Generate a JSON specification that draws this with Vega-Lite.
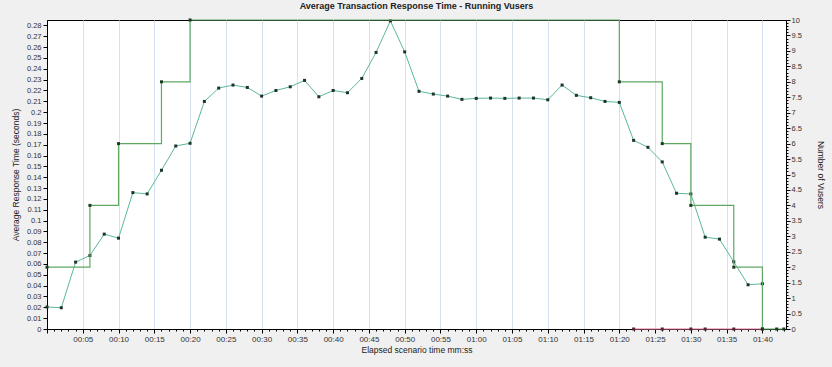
{
  "$schema": "https://vega.github.io/schema/vega-lite/v6.json",
  "width": 739,
  "height": 309,
  "autosize": "none",
  "padding": {"left": 47, "top": 20, "right": 46, "bottom": 38},
  "background": "#f0f0f0",
  "view": {"fill": "white", "stroke": "#000", "strokeWidth": 1},
  "title": {"text": "Average Transaction Response Time - Running Vusers", "font": "Liberation Sans", "fontSize": 9, "fontWeight": "bold", "color": "#222", "anchor": "middle", "offset": 5},
  "datasets": {
    "rt": [
      {"t": 0, "v": 0.0203}, {"t": 2, "v": 0.0196}, {"t": 4, "v": 0.0617}, {"t": 6, "v": 0.0678},
      {"t": 8, "v": 0.0875}, {"t": 10, "v": 0.0838}, {"t": 12, "v": 0.1258}, {"t": 14, "v": 0.1246},
      {"t": 16, "v": 0.1464}, {"t": 18, "v": 0.1688}, {"t": 20, "v": 0.1713}, {"t": 22, "v": 0.2099},
      {"t": 24, "v": 0.2222}, {"t": 26, "v": 0.2250}, {"t": 28, "v": 0.2228}, {"t": 30, "v": 0.2148},
      {"t": 32, "v": 0.2200}, {"t": 34, "v": 0.2234}, {"t": 36, "v": 0.2293}, {"t": 38, "v": 0.2142},
      {"t": 40, "v": 0.2200}, {"t": 42, "v": 0.2179}, {"t": 44, "v": 0.2311}, {"t": 46, "v": 0.2551},
      {"t": 48, "v": 0.2842}, {"t": 50, "v": 0.2556}, {"t": 52, "v": 0.2192}, {"t": 54, "v": 0.2167},
      {"t": 56, "v": 0.2148}, {"t": 58, "v": 0.2118}, {"t": 60, "v": 0.2127}, {"t": 62, "v": 0.2130},
      {"t": 64, "v": 0.2127}, {"t": 66, "v": 0.2130}, {"t": 68, "v": 0.2130}, {"t": 70, "v": 0.2114},
      {"t": 72, "v": 0.2250}, {"t": 74, "v": 0.2155}, {"t": 76, "v": 0.2133}, {"t": 78, "v": 0.2099},
      {"t": 80, "v": 0.2090}, {"t": 82, "v": 0.1740}, {"t": 84, "v": 0.1676}, {"t": 86, "v": 0.1541},
      {"t": 88, "v": 0.1252}, {"t": 90, "v": 0.1246}, {"t": 92, "v": 0.0847}, {"t": 94, "v": 0.0829},
      {"t": 96, "v": 0.0620}, {"t": 98, "v": 0.0408}, {"t": 100, "v": 0.0417}
    ],
    "other": [
      {"t": 82, "v": 0}, {"t": 86, "v": 0}, {"t": 90, "v": 0}, {"t": 92, "v": 0}, {"t": 96, "v": 0}, {"t": 100, "v": 0}
    ],
    "users": [
      {"t": 0, "u": 2}, {"t": 6, "u": 4}, {"t": 10, "u": 6}, {"t": 16, "u": 8}, {"t": 20, "u": 10},
      {"t": 80, "u": 8}, {"t": 86, "u": 6}, {"t": 90, "u": 4}, {"t": 96, "u": 2}, {"t": 100, "u": 0},
      {"t": 102, "u": 0}, {"t": 103, "u": 0}
    ]
  },
  "encoding": {
    "x": {
      "field": "t", "type": "quantitative",
      "scale": {"domain": [0, 103.3], "nice": false, "zero": false},
      "axis": {
        "title": "Elapsed scenario time mm:ss",
        "values": [0,1,2,3,4,5,6,7,8,9,10,11,12,13,14,15,16,17,18,19,20,21,22,23,24,25,26,27,28,29,30,31,32,33,34,35,36,37,38,39,40,41,42,43,44,45,46,47,48,49,50,51,52,53,54,55,56,57,58,59,60,61,62,63,64,65,66,67,68,69,70,71,72,73,74,75,76,77,78,79,80,81,82,83,84,85,86,87,88,89,90,91,92,93,94,95,96,97,98,99,100,101,102,103],
        "labelExpr": "datum.value % 5 == 0 && datum.value > 0 ? (floor(datum.value/60) < 10 ? '0' : '') + floor(datum.value/60) + ':' + (datum.value % 60 < 10 ? '0' : '') + (datum.value % 60) : ''",
        "tickSize": {"condition": {"test": "datum.value % 5 == 0", "value": 4}, "value": 2},
        "grid": true,
        "gridColor": "#d3e2ee",
        "gridOpacity": {"condition": {"test": "datum.value % 5 == 0 && datum.value > 0", "value": 1}, "value": 0},
        "domainColor": "#000", "tickColor": "#000",
        "labelFont": "Liberation Sans", "labelFontSize": 8, "labelColor": "#333",
        "labelPadding": 2, "labelOverlap": false, "labelFlush": false,
        "titleFont": "Liberation Sans", "titleFontSize": 8.5, "titleFontWeight": "normal", "titleColor": "#222", "titlePadding": 2
      }
    }
  },
  "layer": [
    {
      "encoding": {
        "y": {
          "field": "v", "type": "quantitative",
          "scale": {"domain": [0, 0.285], "nice": false},
          "axis": {
            "title": "Average Response Time (seconds)",
            "values": [0,0.01,0.02,0.03,0.04,0.05,0.06,0.07,0.08,0.09,0.1,0.11,0.12,0.13,0.14,0.15,0.16,0.17,0.18,0.19,0.2,0.21,0.22,0.23,0.24,0.25,0.26,0.27,0.28],
            "format": "~g",
            "grid": false,
            "tickSize": 4, "domainColor": "#000", "tickColor": "#000",
            "labelFont": "Liberation Sans", "labelFontSize": 7.5, "labelColor": "#333", "labelPadding": 2, "labelOverlap": false,
            "titleFont": "Liberation Sans", "titleFontSize": 8.5, "titleFontWeight": "normal", "titleColor": "#222", "titlePadding": 6
          }
        }
      },
      "layer": [
        {"data": {"name": "rt"}, "mark": {"type": "line", "color": "#5cb898", "strokeWidth": 1}},
        {"data": {"name": "other"}, "mark": {"type": "line", "color": "#e2709a", "strokeWidth": 1.2}},
        {"data": {"name": "rt"}, "mark": {"type": "point", "shape": "square", "filled": true, "color": "#1c3528", "size": 9, "opacity": 1}},
        {"data": {"name": "other"}, "mark": {"type": "point", "shape": "square", "filled": true, "color": "#5a1f30", "size": 9, "opacity": 1}}
      ]
    },
    {
      "encoding": {
        "y": {
          "field": "u", "type": "quantitative",
          "scale": {"domain": [0, 10], "nice": false},
          "axis": {
            "orient": "right",
            "title": "Number of Vusers",
            "titleAngle": 90,
            "values": [0,0.1,0.2,0.3,0.4,0.5,0.6,0.7,0.8,0.9,1,1.1,1.2,1.3,1.4,1.5,1.6,1.7,1.8,1.9,2,2.1,2.2,2.3,2.4,2.5,2.6,2.7,2.8,2.9,3,3.1,3.2,3.3,3.4,3.5,3.6,3.7,3.8,3.9,4,4.1,4.2,4.3,4.4,4.5,4.6,4.7,4.8,4.9,5,5.1,5.2,5.3,5.4,5.5,5.6,5.7,5.8,5.9,6,6.1,6.2,6.3,6.4,6.5,6.6,6.7,6.8,6.9,7,7.1,7.2,7.3,7.4,7.5,7.6,7.7,7.8,7.9,8,8.1,8.2,8.3,8.4,8.5,8.6,8.7,8.8,8.9,9,9.1,9.2,9.3,9.4,9.5,9.6,9.7,9.8,9.9,10],
            "labelExpr": "abs(datum.value*2 - round(datum.value*2)) < 0.001 ? format(datum.value, '~g') : ''",
            "tickSize": {"condition": {"test": "abs(datum.value*2 - round(datum.value*2)) < 0.001", "value": 4}, "value": 2},
            "grid": false,
            "domainColor": "#000", "tickColor": "#000",
            "labelFont": "Liberation Sans", "labelFontSize": 7.5, "labelColor": "#333", "labelPadding": 1, "labelOverlap": false,
            "titleFont": "Liberation Sans", "titleFontSize": 8.5, "titleFontWeight": "normal", "titleColor": "#222", "titlePadding": 14
          }
        }
      },
      "layer": [
        {"data": {"name": "users"}, "mark": {"type": "line", "interpolate": "step-after", "color": "#5fa862", "strokeWidth": 1.2}},
        {"data": {"name": "users"}, "mark": {"type": "point", "shape": "square", "filled": true, "color": "#1c3a20", "size": 9, "opacity": 1}}
      ]
    }
  ],
  "resolve": {"scale": {"y": "independent"}}
}
